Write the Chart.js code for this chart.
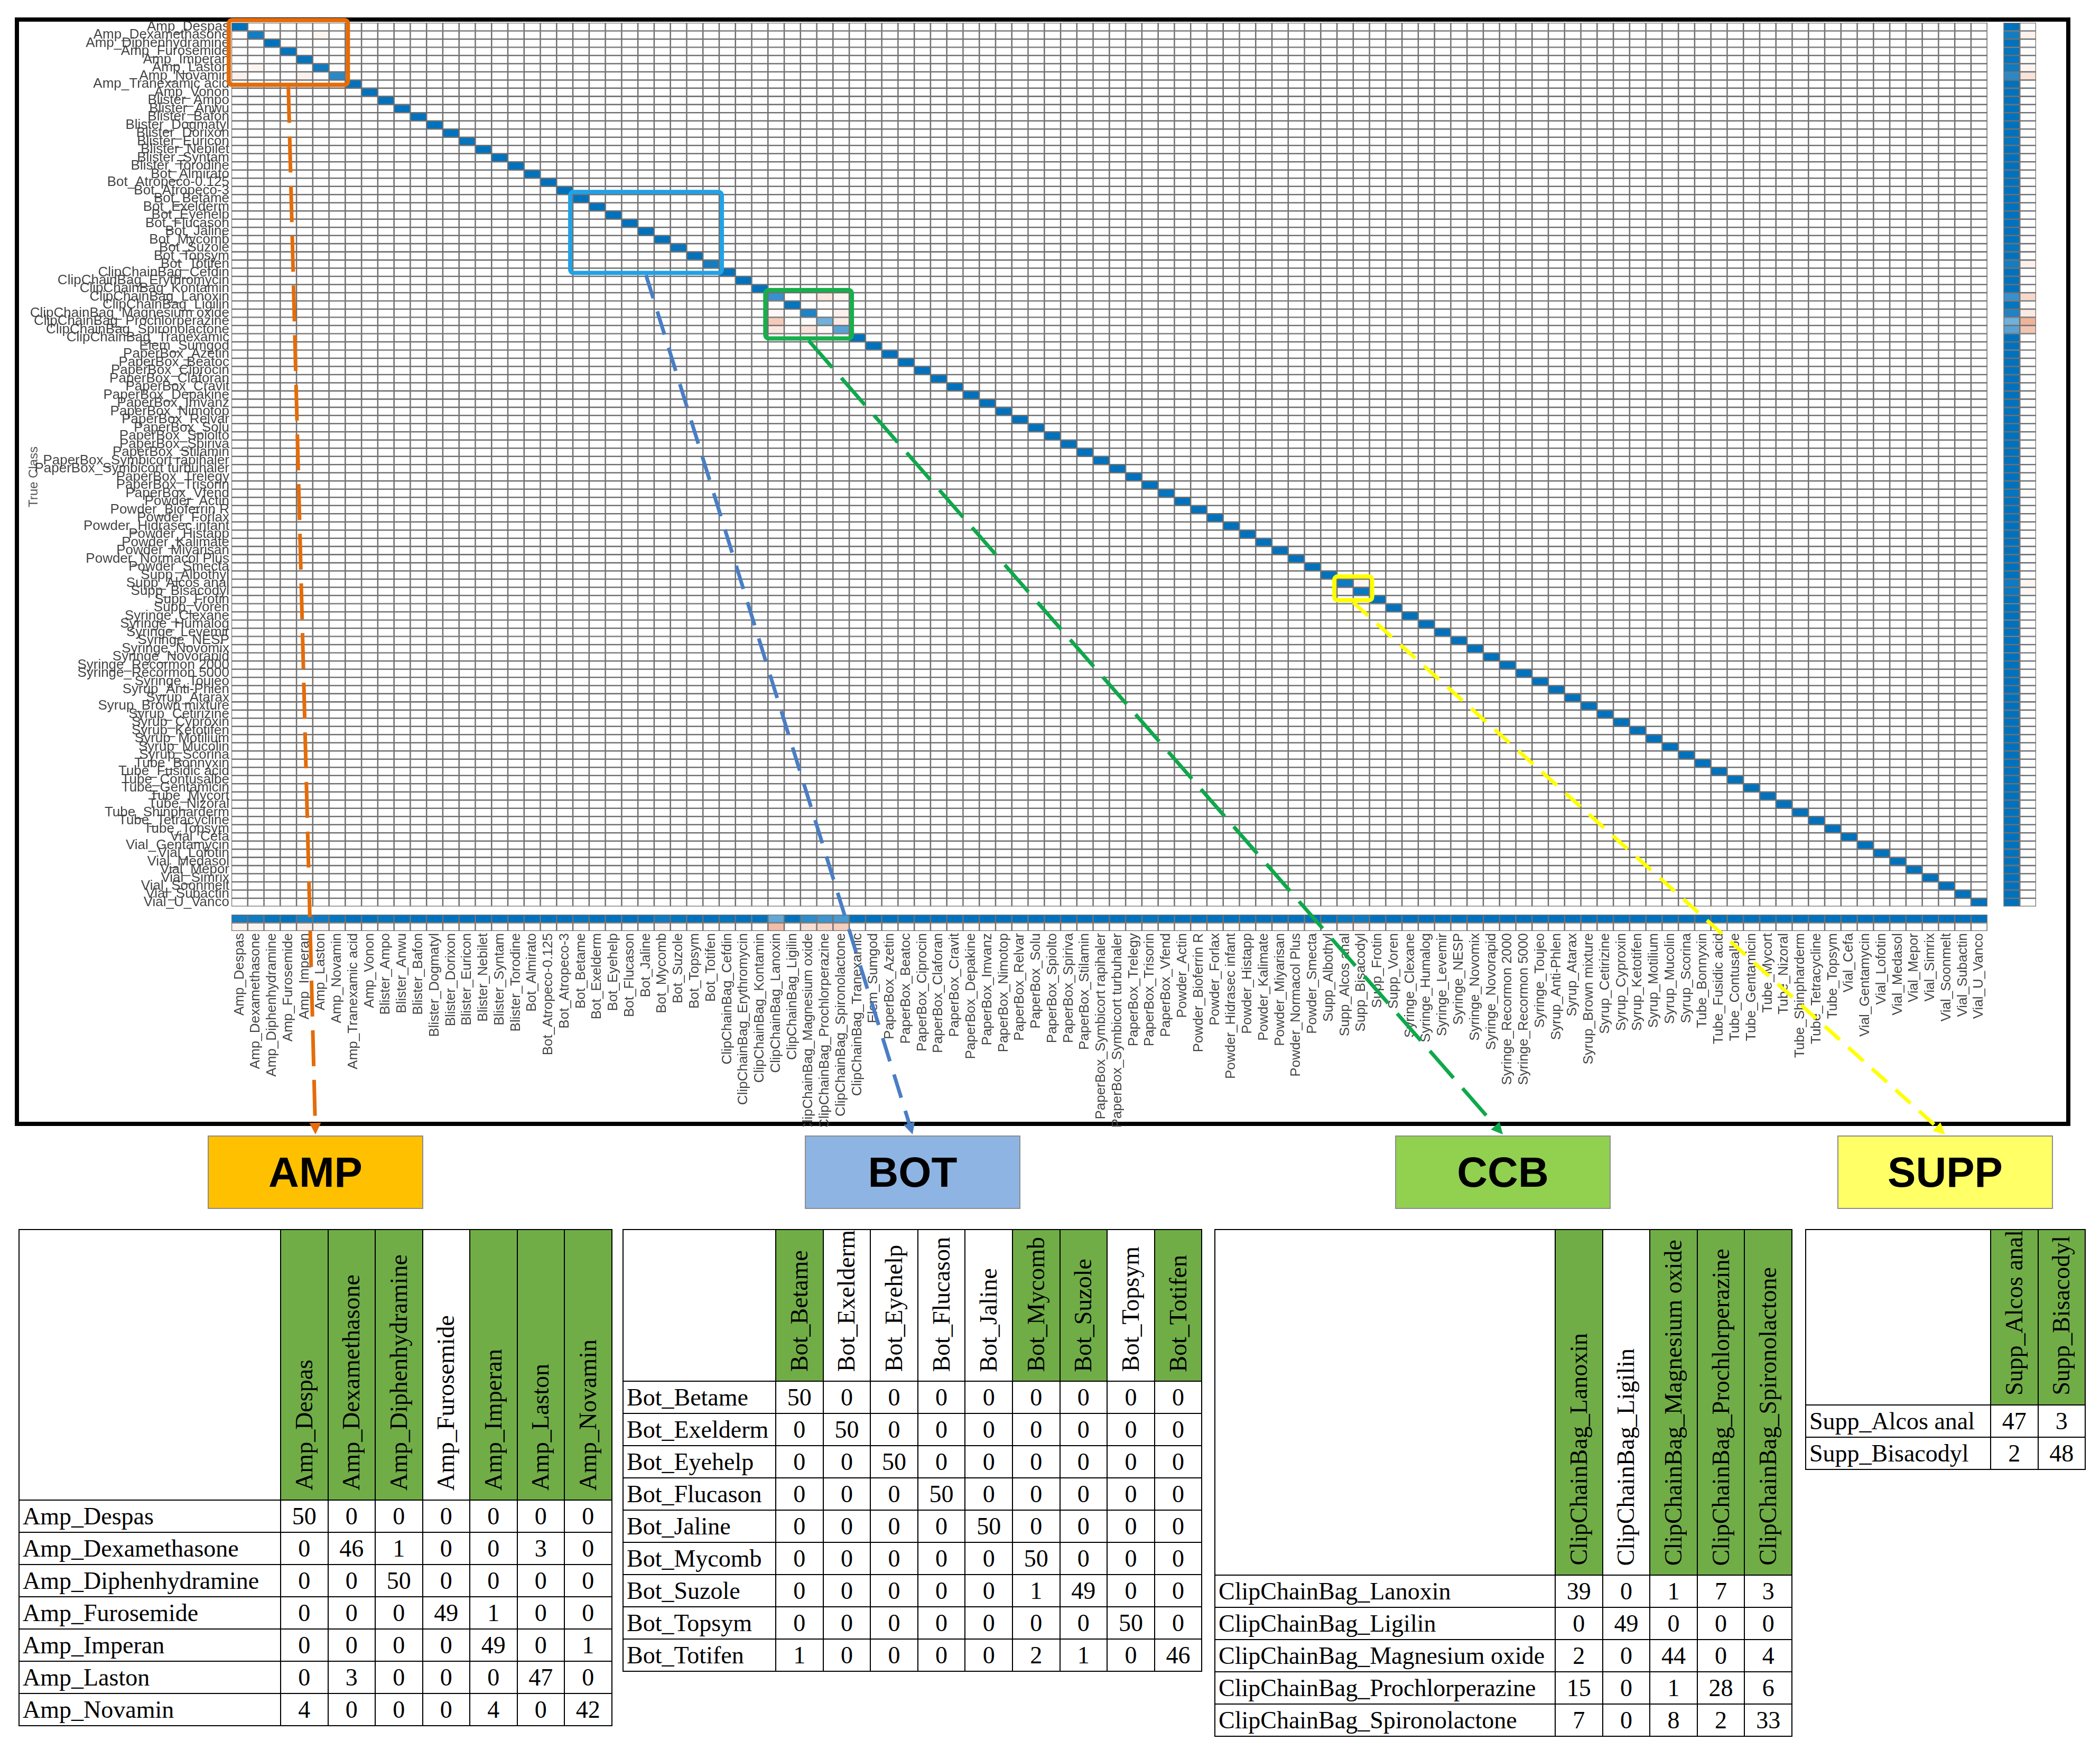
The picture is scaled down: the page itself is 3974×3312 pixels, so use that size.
<!DOCTYPE html>
<html>
<head>
<meta charset="utf-8">
<title>Confusion matrix</title>
<script src="https://cdn.jsdelivr.net/npm/chart.js@4.4.1/dist/chart.umd.min.js"></script>
<style>
  html, body { margin: 0; padding: 0; background: #fff; }
  body { position: relative; width: 3974px; height: 3312px; overflow: hidden; }
  #frame { position: absolute; left: 28px; top: 33px; width: 3874px; height: 2082px; border: 8px solid #000; }
  #cm { position: absolute; left: 0; top: 0; z-index: 3; pointer-events: none; }
  .tag { position: absolute; top: 2149px; width: 404px; height: 135px; border: 2px solid #8c8c8c;
         font: bold 80px 'Liberation Sans', Arial, sans-serif; color: #000;
         display: flex; align-items: center; justify-content: center; }
  table.blk { position: absolute; top: 2326px; border-collapse: collapse; table-layout: fixed;
              font: 46px 'Liberation Serif', serif; color: #000; }
  table.blk td, table.blk th { border: 2px solid #000; padding: 0; overflow: hidden; white-space: nowrap; }
  table.blk th { font-weight: normal; vertical-align: bottom; text-align: center; }
  table.blk th.hl { background: #70AD47; }
  table.blk th span { display: inline-block; writing-mode: vertical-rl; transform: rotate(180deg);
                      padding-top: 6px; line-height: 1; }
  table.blk td.name { text-align: left; padding-left: 6px; }
  table.blk td.num { text-align: center; }
</style>
</head>
<body>
<div id="frame"></div>
<div class="tag" id="tag-AMP" style="left:393px;background:#FFC000">AMP</div>
<div class="tag" id="tag-BOT" style="left:1523px;background:#8EB4E3">BOT</div>
<div class="tag" id="tag-CCB" style="left:2640px;background:#92D050">CCB</div>
<div class="tag" id="tag-SUPP" style="left:3477px;background:#FFFF66">SUPP</div>
<table class="blk" id="tbl-AMP"></table>
<table class="blk" id="tbl-BOT"></table>
<table class="blk" id="tbl-CCB"></table>
<table class="blk" id="tbl-SUPP"></table>
<canvas id="cm" width="3974" height="3312"></canvas>
<script>
// class order as on the axes
const classNames = [
  'Amp_Despas', 'Amp_Dexamethasone', 'Amp_Diphenhydramine', 'Amp_Furosemide', 'Amp_Imperan', 'Amp_Laston', 'Amp_Novamin', 'Amp_Tranexamic acid', 'Amp_Vonon',
  'Blister_Ampo', 'Blister_Anwu', 'Blister_Bafon', 'Blister_Dogmatyl', 'Blister_Dorixon', 'Blister_Euricon', 'Blister_Nebilet', 'Blister_Syntam', 'Blister_Torodine',
  'Bot_Almirato', 'Bot_Atropeco-0.125', 'Bot_Atropeco-3', 'Bot_Betame', 'Bot_Exelderm', 'Bot_Eyehelp', 'Bot_Flucason', 'Bot_Jaline', 'Bot_Mycomb', 'Bot_Suzole', 'Bot_Topsym', 'Bot_Totifen',
  'ClipChainBag_Cefdin', 'ClipChainBag_Erythromycin', 'ClipChainBag_Kontamin', 'ClipChainBag_Lanoxin', 'ClipChainBag_Ligilin', 'ClipChainBag_Magnesium oxide', 'ClipChainBag_Prochlorperazine', 'ClipChainBag_Spironolactone', 'ClipChainBag_Tranexamic', 'Elem_Sumgod',
  'PaperBox_Azetin', 'PaperBox_Beatoc', 'PaperBox_Ciprocin', 'PaperBox_Claforan', 'PaperBox_Cravit', 'PaperBox_Depakine', 'PaperBox_Imvanz', 'PaperBox_Nimotop', 'PaperBox_Relvar', 'PaperBox_Solu', 'PaperBox_Spiolto', 'PaperBox_Spiriva', 'PaperBox_Stilamin', 'PaperBox_Symbicort rapihaler', 'PaperBox_Symbicort turbuhaler', 'PaperBox_Trelegy', 'PaperBox_Trisorin', 'PaperBox_Vfend',
  'Powder_Actin', 'Powder_Bioferrin R', 'Powder_Forlax', 'Powder_Hidrasec infant', 'Powder_Histapp', 'Powder_Kalimate', 'Powder_Miyarisan', 'Powder_Normacol Plus', 'Powder_Smecta',
  'Supp_Albothyl', 'Supp_Alcos anal', 'Supp_Bisacodyl', 'Supp_Frotin', 'Supp_Voren',
  'Syringe_Clexane', 'Syringe_Humalog', 'Syringe_Levemir', 'Syringe_NESP', 'Syringe_Novomix', 'Syringe_Novorapid', 'Syringe_Recormon 2000', 'Syringe_Recormon 5000', 'Syringe_Toujeo',
  'Syrup_Anti-Phlen', 'Syrup_Atarax', 'Syrup_Brown mixture', 'Syrup_Cetirizine', 'Syrup_Cyproxin', 'Syrup_Ketotifen', 'Syrup_Motilium', 'Syrup_Mucolin', 'Syrup_Scorina',
  'Tube_Bonnyxin', 'Tube_Fusidic acid', 'Tube_Contusalbe', 'Tube_Gentamicin', 'Tube_Mycort', 'Tube_Nizoral', 'Tube_Shinpharderm', 'Tube_Tetracycline', 'Tube_Topsym',
  'Vial_Cefa', 'Vial_Gentamycin', 'Vial_Lofotin', 'Vial_Medasol', 'Vial_Mepor', 'Vial_Simrix', 'Vial_Soonmelt', 'Vial_Subactin', 'Vial_U_Vanco'
];

// correctly classified samples (diagonal), same order as classNames
const correctCounts = [
  50, 46, 50, 49, 49, 47, 42, 50, 50,                    // Amp
  50, 50, 50, 50, 50, 49, 50, 50, 50,                    // Blister
  50, 50, 50, 50, 50, 50, 50, 50, 50, 49, 50, 46,        // Bot
  50, 50, 50, 39, 49, 44, 28, 33, 50, 50,                // ClipChainBag, Elem
  50, 50, 50, 50, 50, 50, 50, 50, 50, 50, 50, 50, 50, 50, 50, 50, 50, 49, // PaperBox
  50, 50, 50, 50, 50, 50, 50, 50, 50,                    // Powder
  50, 47, 48, 50, 50,                                    // Supp
  50, 50, 50, 50, 50, 50, 50, 50, 50,                    // Syringe
  50, 50, 50, 50, 50, 50, 50, 50, 50,                    // Syrup
  50, 50, 50, 50, 50, 50, 50, 50, 50,                    // Tube
  50, 50, 50, 50, 50, 50, 50, 50, 50                     // Vial
];

// misclassifications: [true class, predicted class, count]
const confusions = [
  ['Amp_Dexamethasone', 'Amp_Diphenhydramine', 1],
  ['Amp_Dexamethasone', 'Amp_Laston', 3],
  ['Amp_Furosemide', 'Amp_Imperan', 1],
  ['Amp_Imperan', 'Amp_Novamin', 1],
  ['Amp_Laston', 'Amp_Dexamethasone', 3],
  ['Amp_Novamin', 'Amp_Despas', 4],
  ['Amp_Novamin', 'Amp_Imperan', 4],
  ['Blister_Euricon', 'Blister_Ampo', 1],
  ['Bot_Suzole', 'Bot_Mycomb', 1],
  ['Bot_Totifen', 'Bot_Betame', 1],
  ['Bot_Totifen', 'Bot_Mycomb', 2],
  ['Bot_Totifen', 'Bot_Suzole', 1],
  ['ClipChainBag_Lanoxin', 'ClipChainBag_Magnesium oxide', 1],
  ['ClipChainBag_Lanoxin', 'ClipChainBag_Prochlorperazine', 7],
  ['ClipChainBag_Lanoxin', 'ClipChainBag_Spironolactone', 3],
  ['ClipChainBag_Ligilin', 'ClipChainBag_Cefdin', 1],
  ['ClipChainBag_Magnesium oxide', 'ClipChainBag_Lanoxin', 2],
  ['ClipChainBag_Magnesium oxide', 'ClipChainBag_Spironolactone', 4],
  ['ClipChainBag_Prochlorperazine', 'ClipChainBag_Lanoxin', 15],
  ['ClipChainBag_Prochlorperazine', 'ClipChainBag_Magnesium oxide', 1],
  ['ClipChainBag_Prochlorperazine', 'ClipChainBag_Spironolactone', 6],
  ['ClipChainBag_Spironolactone', 'ClipChainBag_Lanoxin', 7],
  ['ClipChainBag_Spironolactone', 'ClipChainBag_Magnesium oxide', 8],
  ['ClipChainBag_Spironolactone', 'ClipChainBag_Prochlorperazine', 2],
  ['PaperBox_Vfend', 'PaperBox_Trisorin', 1],
  ['Supp_Alcos anal', 'Supp_Bisacodyl', 3],
  ['Supp_Bisacodyl', 'Supp_Alcos anal', 2]
];

// zoomed sub-tables and their highlighted (green) headers
const ampClasses = ['Amp_Despas', 'Amp_Dexamethasone', 'Amp_Diphenhydramine', 'Amp_Furosemide', 'Amp_Imperan', 'Amp_Laston', 'Amp_Novamin'];
const botClasses = ['Bot_Betame', 'Bot_Exelderm', 'Bot_Eyehelp', 'Bot_Flucason', 'Bot_Jaline', 'Bot_Mycomb', 'Bot_Suzole', 'Bot_Topsym', 'Bot_Totifen'];
const ccbClasses = ['ClipChainBag_Lanoxin', 'ClipChainBag_Ligilin', 'ClipChainBag_Magnesium oxide', 'ClipChainBag_Prochlorperazine', 'ClipChainBag_Spironolactone'];
const suppClasses = ['Supp_Alcos anal', 'Supp_Bisacodyl'];
const greenHeaders = [
  'Amp_Despas', 'Amp_Dexamethasone', 'Amp_Diphenhydramine', 'Amp_Imperan', 'Amp_Laston', 'Amp_Novamin',
  'Bot_Betame', 'Bot_Mycomb', 'Bot_Suzole', 'Bot_Totifen',
  'ClipChainBag_Lanoxin', 'ClipChainBag_Magnesium oxide', 'ClipChainBag_Prochlorperazine', 'ClipChainBag_Spironolactone',
  'Supp_Alcos anal', 'Supp_Bisacodyl'
];

// ---- build the full matrix ----
const N = classNames.length;
const idx = {};
classNames.forEach((c, i) => idx[c] = i);
const counts = classNames.map(() => new Array(N).fill(0));
correctCounts.forEach((v, i) => counts[i][i] = v);
confusions.forEach(([t, p, n]) => { counts[idx[t]][idx[p]] = n; });
const maxCount = Math.max(...counts.map(r => Math.max(...r)));

const DIAG = [0, 114, 189];
const OFF = [217, 83, 25];
function shade(rgb, t) {
  if (t <= 0) return '#ffffff';
  const c = rgb.map(v => Math.round(255 + (v - 255) * Math.min(1, t)));
  return `rgb(${c[0]},${c[1]},${c[2]})`;
}

// x/y slots: N classes, one gap, two summary slots
const xLabels = classNames.concat([' ', '  ', '   ']);
const yLabels = classNames.concat([' ', '  ', '   ']);

const cells = [], cellColors = [];
for (let i = 0; i < N; i++) {
  for (let j = 0; j < N; j++) {
    cells.push({ x: xLabels[j], y: [i, i + 1] });
    cellColors.push(shade(i === j ? DIAG : OFF, counts[i][j] / maxCount));
  }
}
// column summary (precision) under the matrix
for (let j = 0; j < N; j++) {
  let colSum = 0;
  for (let i = 0; i < N; i++) colSum += counts[i][j];
  const p = colSum ? counts[j][j] / colSum : 0;
  cells.push({ x: xLabels[j], y: [N + 1, N + 2] }); cellColors.push(shade(DIAG, p));
  cells.push({ x: xLabels[j], y: [N + 2, N + 3] }); cellColors.push(shade(OFF, 1 - p));
}
// row summary (recall) on the right
for (let i = 0; i < N; i++) {
  const rowSum = counts[i].reduce((a, b) => a + b, 0);
  const r = rowSum ? counts[i][i] / rowSum : 0;
  cells.push({ x: xLabels[N + 1], y: [i, i + 1] }); cellColors.push(shade(DIAG, r));
  cells.push({ x: xLabels[N + 2], y: [i, i + 1] }); cellColors.push(shade(OFF, 1 - r));
}

// ---- tables ----
function buildTable(id, names, lay) {
  const t = document.getElementById(id);
  let html = `<colgroup><col style="width:${lay.labelW}px">` + names.map(() => `<col style="width:${lay.colW}px">`).join('') + '</colgroup>';
  html += `<tr style="height:${lay.headH}px"><td></td>` +
    names.map(n => `<th class="${greenHeaders.includes(n) ? 'hl' : ''}"><span>${n}</span></th>`).join('') + '</tr>';
  names.forEach(r => {
    html += `<tr style="height:${lay.rowH}px"><td class="name">${r}</td>` +
      names.map(c => `<td class="num">${counts[idx[r]][idx[c]]}</td>`).join('') + '</tr>';
  });
  t.innerHTML = html;
  t.style.left = lay.left + 'px';
  t.style.width = (lay.labelW + names.length * lay.colW) + 'px';
}
buildTable('tbl-AMP', ampClasses, { left: 35, labelW: 495, colW: 89.5, headH: 512, rowH: 61 });
buildTable('tbl-BOT', botClasses, { left: 1178, labelW: 289, colW: 89.6, headH: 276, rowH: 61 });
buildTable('tbl-CCB', ccbClasses, { left: 2298, labelW: 644, colW: 89.6, headH: 654, rowH: 61 });
buildTable('tbl-SUPP', suppClasses, { left: 3416, labelW: 350, colW: 89.5, headH: 331, rowH: 61 });

// ---- zoom boxes + dashed leaders ----
const zoomGroups = [
  { name: 'AMP', classes: ampClasses, box: '#E46C0A', line: '#E46C0A', dash: [68, 26] },
  { name: 'BOT', classes: botClasses, box: '#22A2E6', line: '#4A7EC4', dash: [46, 26] },
  { name: 'CCB', classes: ccbClasses, box: '#17AF4B', line: '#0FA84A', dash: [68, 26] },
  { name: 'SUPP', classes: suppClasses, box: '#FFFF00', line: '#FFFF00', dash: [38, 22] }
];

const zoomBoxes = {
  id: 'zoomBoxes',
  afterDraw(chart) {
    const { ctx } = chart;
    const x = chart.scales.x, y = chart.scales.y;
    const colW = x.getPixelForValue(1) - x.getPixelForValue(0);
    zoomGroups.forEach(g => {
      const a = idx[g.classes[0]], b = idx[g.classes[g.classes.length - 1]];
      const left = x.getPixelForValue(a) - colW / 2 - 5;
      const right = x.getPixelForValue(b) + colW / 2 + 5;
      const top = y.getPixelForValue(a) - 5;
      const bottom = y.getPixelForValue(b + 1) + 9;
      ctx.save();
      ctx.strokeStyle = g.box;
      ctx.lineWidth = 8;
      ctx.lineJoin = 'round';
      ctx.beginPath();
      ctx.roundRect(left, top, right - left, bottom - top, 6);
      ctx.stroke();

      const tag = document.getElementById('tag-' + g.name).getBoundingClientRect();
      const sx = (left + right) / 2, sy = bottom + 4;
      const ex = tag.left + tag.width / 2, ey = tag.top - 2;
      const ang = Math.atan2(ey - sy, ex - sx);
      const head = 22;
      ctx.strokeStyle = g.line;
      ctx.lineWidth = 7;
      ctx.setLineDash(g.dash);
      ctx.beginPath();
      ctx.moveTo(sx, sy);
      ctx.lineTo(ex - head * Math.cos(ang), ey - head * Math.sin(ang));
      ctx.stroke();
      ctx.setLineDash([]);
      ctx.fillStyle = g.line;
      ctx.beginPath();
      ctx.moveTo(ex, ey);
      ctx.lineTo(ex - head * Math.cos(ang) + 11 * Math.sin(ang), ey - head * Math.sin(ang) - 11 * Math.cos(ang));
      ctx.lineTo(ex - head * Math.cos(ang) - 11 * Math.sin(ang), ey - head * Math.sin(ang) + 11 * Math.cos(ang));
      ctx.closePath();
      ctx.fill();
      ctx.restore();
    });
  }
};

// ---- chart ----
const tickFont = { family: "'Liberation Sans', Arial, sans-serif", size: 26 };
new Chart(document.getElementById('cm'), {
  type: 'bar',
  data: {
    labels: xLabels,
    datasets: [{
      data: cells,
      yAxisID: 'y',
      backgroundColor: cellColors,
      borderColor: '#707070',
      borderWidth: 1.6,
      borderSkipped: false,
      barPercentage: 1,
      categoryPercentage: 1
    }]
  },
  options: {
    responsive: false,
    animation: false,
    devicePixelRatio: 1,
    events: [],
    layout: { padding: { left: 38, top: 43, right: 121, bottom: 1180 } },
    plugins: { legend: { display: false }, tooltip: { enabled: false } },
    scales: {
      x: {
        type: 'category',
        offset: true,
        grid: { display: false, drawTicks: false },
        border: { display: false },
        ticks: { autoSkip: false, minRotation: 90, maxRotation: 90, padding: 4, color: '#444', font: tickFont },
        afterFit: s => { s.height = 370; }
      },
      y: { type: 'linear', display: false, min: 0, max: N + 3, reverse: true },
      yl: {
        type: 'category',
        labels: yLabels,
        position: 'left',
        offset: true,
        grid: { display: false, drawTicks: false },
        border: { display: false },
        ticks: { autoSkip: false, padding: 4, color: '#444', font: tickFont },
        title: { display: true, text: 'True Class', color: '#555', font: { family: tickFont.family, size: 24 }, padding: { top: 12, bottom: 0 } },
        afterFit: s => { s.width = 400; }
      }
    }
  },
  plugins: [zoomBoxes]
});
</script>
</body>
</html>
